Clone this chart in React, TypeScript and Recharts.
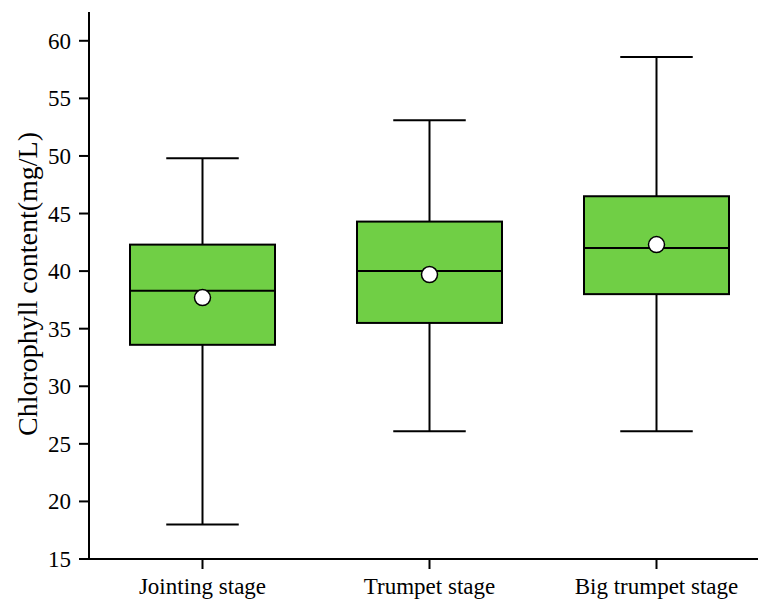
import React from "react";
import { ComposedChart, Bar, Scatter, XAxis, YAxis } from "recharts";

const categories = ["Jointing stage", "Trumpet stage", "Big trumpet stage"];
const minValues = [18.0, 26.1, 26.1];
const q1Values = [33.6, 35.5, 38.0];
const medianValues = [38.3, 40.0, 42.0];
const q3Values = [42.3, 44.3, 46.5];
const maxValues = [49.8, 53.1, 58.6];
const meanValues = [37.7, 39.7, 42.3];
const yTicks = [15, 20, 25, 30, 35, 40, 45, 50, 55, 60];

const data = categories.map((name, i) => ({
  name,
  range: [minValues[i], maxValues[i]],
  min: minValues[i],
  q1: q1Values[i],
  median: medianValues[i],
  q3: q3Values[i],
  max: maxValues[i],
  mean: meanValues[i],
}));

const FONT = "Liberation Serif";
const GREEN = "#70CF45";

const BoxShape = (props: any) => {
  const { x, y, width, height, payload } = props;
  if (payload == null) return null;
  const top = Math.min(y, y + height);
  const h = Math.abs(height);
  const { min, max, q1, median, q3 } = payload;
  const py = (v: number) => top + ((max - v) / (max - min)) * h;
  const cx = x + width / 2;
  const capHalf = width / 4;
  const yQ1 = py(q1);
  const yQ3 = py(q3);
  const yMed = py(median);
  const yMax = py(max);
  const yMin = py(min);
  return (
    <g>
      <line x1={cx} x2={cx} y1={yMax} y2={yQ3} stroke="#000" strokeWidth={2} />
      <line x1={cx} x2={cx} y1={yQ1} y2={yMin} stroke="#000" strokeWidth={2} />
      <line x1={cx - capHalf} x2={cx + capHalf} y1={yMax} y2={yMax} stroke="#000" strokeWidth={2} />
      <line x1={cx - capHalf} x2={cx + capHalf} y1={yMin} y2={yMin} stroke="#000" strokeWidth={2} />
      <rect x={x} y={yQ3} width={width} height={yQ1 - yQ3} fill={GREEN} stroke="#000" strokeWidth={2} />
      <line x1={x} x2={x + width} y1={yMed} y2={yMed} stroke="#000" strokeWidth={2} />
    </g>
  );
};

const MeanDot = (props: any) => {
  const { cx, cy } = props;
  if (cx == null || cy == null) return null;
  return <circle cx={cx} cy={cy} r={8} fill="#fff" stroke="#000" strokeWidth={1.5} />;
};

const XTick = (props: any) => {
  const { x, y, payload } = props;
  return (
    <text x={x} y={y + 17} textAnchor="middle" fontFamily={FONT} fontSize={23} fill="#000">
      {payload.value}
    </text>
  );
};

const YTick = (props: any) => {
  const { x, y, payload } = props;
  return (
    <text x={x} y={y + 8} textAnchor="end" fontFamily={FONT} fontSize={23} fill="#000">
      {payload.value}
    </text>
  );
};

const YLabel = () => (
  <text
    x={37}
    y={284}
    transform="rotate(-90 37 284)"
    textAnchor="middle"
    fontFamily={FONT}
    fontSize={28}
    fill="#000"
  >
    Chlorophyll content(mg/L)
  </text>
);

export default function App() {
  return (
    <div
      style={{
        position: "absolute",
        left: 0,
        top: 0,
        width: 758,
        height: 601,
        overflow: "hidden",
        background: "#fff",
        fontFamily: FONT,
      }}
    >
      <ComposedChart
        width={790}
        height={601}
        data={data}
        margin={{ top: 12, right: 20, bottom: 0, left: 0 }}
      >
        <XAxis
          dataKey="name"
          type="category"
          height={42}
          tickSize={10}
          tickMargin={8}
          axisLine={{ stroke: "#000", strokeWidth: 2 }}
          tickLine={{ stroke: "#000", strokeWidth: 2 }}
          tick={<XTick />}
          interval={0}
        />
        <XAxis
          xAxisId="top"
          dataKey="name"
          orientation="top"
          height={0}
          tick={false}
          tickLine={false}
          axisLine={{ stroke: "#000", strokeWidth: 2 }}
        />
        <YAxis
          type="number"
          domain={[15, 62.5]}
          ticks={yTicks}
          allowDataOverflow
          width={89}
          tickSize={10}
          tickMargin={8}
          axisLine={{ stroke: "#000", strokeWidth: 2 }}
          tickLine={{ stroke: "#000", strokeWidth: 2 }}
          tick={<YTick />}
          label={<YLabel />}
        />
        <Bar dataKey="range" barSize={145} shape={<BoxShape />} isAnimationActive={false} />
        <Scatter dataKey="mean" shape={<MeanDot />} isAnimationActive={false} />
      </ComposedChart>
    </div>
  );
}
